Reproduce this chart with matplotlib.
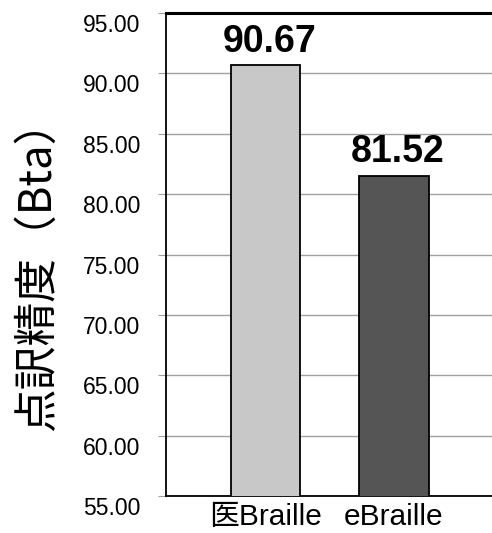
import matplotlib
matplotlib.use('Agg')
import matplotlib.pyplot as plt
from matplotlib.transforms import ScaledTranslation

# Data
categories = ['医Braille', 'eBraille']
values = [90.67, 81.52]
bar_colors = ['#c8c8c8', '#555555']
y_ticks = [55, 60, 65, 70, 75, 80, 85, 90, 95]

fig = plt.figure(figsize=(4.92, 5.33), dpi=100)
ax = fig.add_axes([0.3374, 0.0694, 0.675, 0.9062])

x = list(range(len(categories)))
bars = ax.bar(x, values, width=0.54, color=bar_colors, edgecolor='black',
              linewidth=1.3, zorder=3)

ax.set_ylim(55, 95)
ax.set_xlim(-0.774, 1.763 + 0.048)
ax.set_yticks(y_ticks)
ax.set_yticklabels([f'{v:.2f}' for v in y_ticks], family='Liberation Sans', fontsize=16.5)
ax.yaxis.grid(True, color='#a0a0a0', linewidth=1.0, zorder=0)
ax.tick_params(axis='y', length=6, color='#a0a0a0', pad=12.5)
# tick labels sit a bit below their gridlines in the original
shift = ScaledTranslation(0, -0.10, fig.dpi_scale_trans)
for lab in ax.get_yticklabels():
    lab.set_transform(lab.get_transform() + shift)

ax.set_xticks(x)
ax.set_xticklabels(categories, family=['Liberation Sans', 'Noto Sans CJK JP'], fontsize=21.5)
ax.tick_params(axis='x', length=0, pad=5)

for sp in ['left', 'bottom']:
    ax.spines[sp].set_linewidth(1.3)
ax.spines['top'].set_linewidth(2.2)
ax.spines['right'].set_visible(False)

for b, v in zip(bars, values):
    ax.text(b.get_x() + b.get_width() / 2 + 0.03, v + 0.45, f'{v:.2f}', ha='center', va='bottom',
            family='Liberation Sans', fontweight='bold', fontsize=27)

fig.text(0.075, 0.503, '点訳精度（Bta）', rotation=90, ha='center', va='center',
         family=['Noto Sans CJK JP', 'DejaVu Sans'], fontsize=31.5)

fig.savefig('out.png', dpi=100)
